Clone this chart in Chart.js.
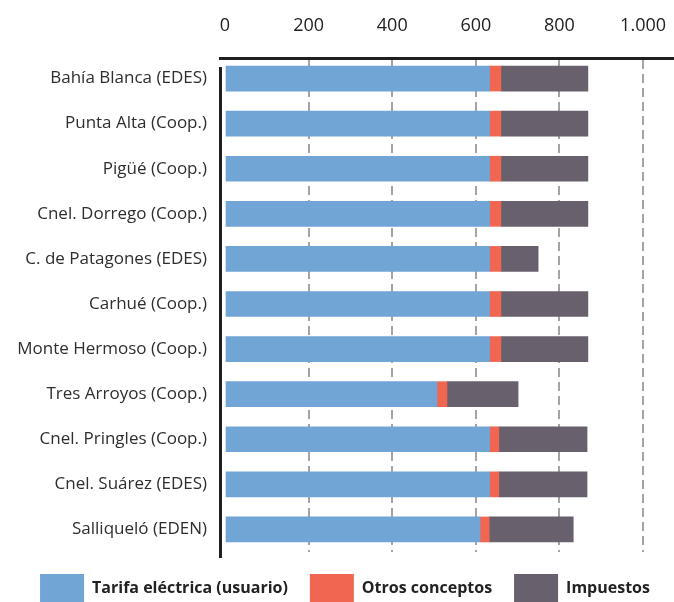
<!DOCTYPE html>
<html>
<head>
<meta charset="utf-8">
<title>Factura eléctrica por localidad</title>
<script src="https://cdn.jsdelivr.net/npm/chart.js@4.4.1/dist/chart.umd.min.js"></script>
<style>
  html, body { margin: 0; padding: 0; background: #ffffff; }
  #wrap { position: relative; width: 674px; height: 602px; }
</style>
</head>
<body>
<div id="wrap"><canvas id="chart"></canvas></div>
<script>
// Localidades (distribuidora)
const localidades = [
  'Bahía Blanca (EDES)',
  'Punta Alta (Coop.)',
  'Pigüé (Coop.)',
  'Cnel. Dorrego (Coop.)',
  'C. de Patagones (EDES)',
  'Carhué (Coop.)',
  'Monte Hermoso (Coop.)',
  'Tres Arroyos (Coop.)',
  'Cnel. Pringles (Coop.)',
  'Cnel. Suárez (EDES)',
  'Salliqueló (EDEN)'
];

// Componentes de la factura, en pesos
const tarifaElectrica = [633, 633, 633, 633, 633, 633, 633, 507, 633, 633, 610];
const otrosConceptos  = [27, 27, 27, 27, 27, 27, 27, 24, 22, 22, 22];
const impuestos       = [208, 208, 208, 208, 89, 208, 208, 170, 211, 211, 201];

// Marcas del eje de valores
const xTickValues = [0, 200, 400, 600, 800, 1000];

const COLOR_TARIFA = '#70a5d5';
const COLOR_OTROS = '#f06650';
const COLOR_IMPUESTOS = '#68606d';

const formatMiles = v => String(v).replace(/\B(?=(\d{3})+(?!\d))/g, '.');

// Lineas negras del marco: eje superior y eje de categorias
const marcoEjes = {
  id: 'marcoEjes',
  afterDatasetsDraw(chart) {
    const { ctx, chartArea: a } = chart;
    ctx.save();
    ctx.strokeStyle = '#1f1f1f';
    ctx.lineWidth = 3;
    ctx.beginPath();
    ctx.moveTo(a.left - 1, a.top + 2.5);
    ctx.lineTo(chart.width, a.top + 2.5);
    ctx.stroke();
    ctx.beginPath();
    ctx.moveTo(a.left + 0.5, a.top + 11);
    ctx.lineTo(a.left + 0.5, a.bottom + 6);
    ctx.stroke();
    ctx.restore();
  }
};

// Desplaza la leyenda levemente hacia la derecha
const leyendaDesplazada = {
  id: 'leyendaDesplazada',
  afterLayout(chart) {
    if (chart.legend) {
      chart.legend.left += 16;
    }
  }
};

const barOpts = { barThickness: 25, borderWidth: 0 };

new Chart(document.getElementById('chart'), {
  type: 'bar',
  data: {
    labels: localidades,
    datasets: [
      { label: 'Tarifa eléctrica (usuario)', data: tarifaElectrica, backgroundColor: COLOR_TARIFA, ...barOpts },
      { label: 'Otros conceptos', data: otrosConceptos, backgroundColor: COLOR_OTROS, ...barOpts },
      { label: 'Impuestos', data: impuestos, backgroundColor: COLOR_IMPUESTOS, ...barOpts }
    ]
  },
  plugins: [marcoEjes, leyendaDesplazada],
  options: {
    indexAxis: 'y',
    responsive: true,
    maintainAspectRatio: false,
    animation: false,
    layout: { padding: { top: 0, right: 0, bottom: -10, left: 0 } },
    scales: {
      x: {
        position: 'top',
        stacked: true,
        min: -12,
        max: 1074,
        afterBuildTicks: scale => { scale.ticks = xTickValues.map(v => ({ value: v })); },
        afterFit: scale => {
          scale.height = 56;
          scale.paddingLeft = 0;
          scale.paddingRight = 0;
        },
        grid: {
          drawTicks: false,
          lineWidth: 2,
          color: ctx => (ctx.tick && ctx.tick.value === 0) ? 'rgba(0,0,0,0)' : '#a4a4a4'
        },
        border: { display: false, dash: [9, 5], dashOffset: 10 },
        ticks: {
          padding: 19,
          color: '#222222',
          font: { family: '"Open Sans", sans-serif', size: 18 },
          callback: v => formatMiles(v)
        }
      },
      y: {
        stacked: true,
        afterFit: scale => {
          scale.width = 220;
          scale.paddingTop = 0;
          scale.paddingBottom = 0;
        },
        grid: { display: false, drawTicks: false },
        border: { display: false },
        ticks: {
          padding: 13,
          color: '#2e2e2e',
          font: { family: '"Open Sans", sans-serif', size: 17 }
        }
      }
    },
    plugins: {
      tooltip: { enabled: false },
      legend: {
        position: 'bottom',
        labels: {
          boxWidth: 44,
          boxHeight: 28,
          padding: 22,
          color: '#222222',
          font: { family: '"Open Sans", sans-serif', size: 16, weight: 'bold' }
        }
      }
    }
  }
});
</script>
</body>
</html>
